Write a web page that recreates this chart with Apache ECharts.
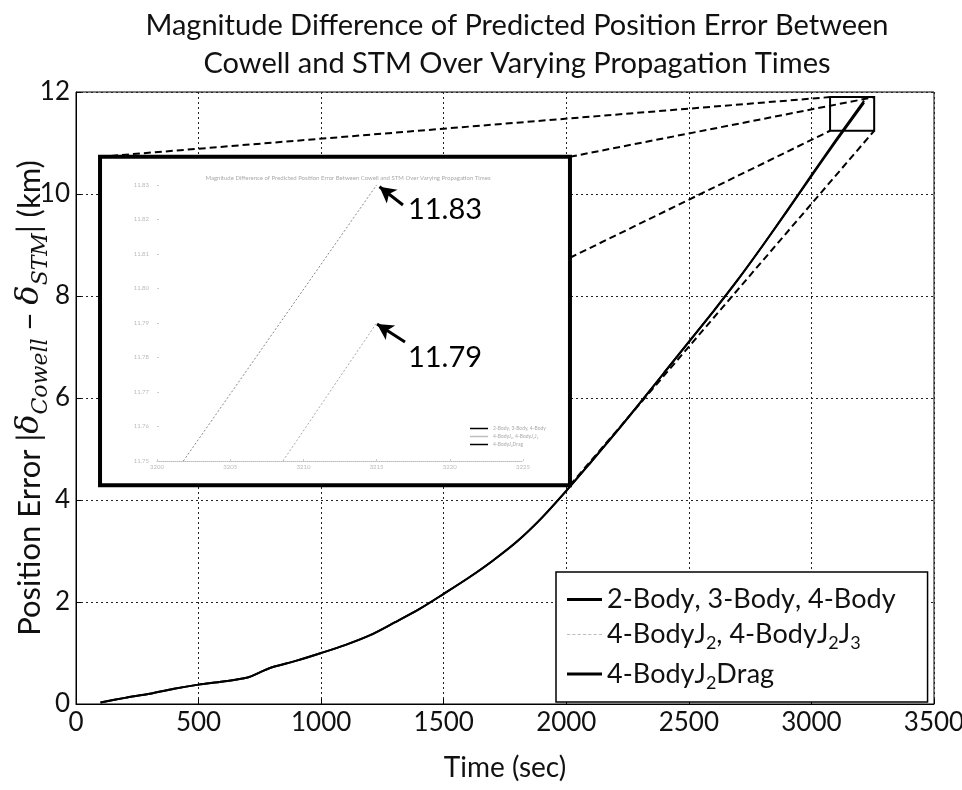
<!DOCTYPE html>
<html><head><meta charset="utf-8">
<script src="https://cdn.jsdelivr.net/npm/echarts@6/dist/echarts.min.js"></script>
<style>html,body{margin:0;padding:0;background:#fff}#c{width:962px;height:790px}</style>
</head><body><div id="c"></div>
<script>
// ---- data ----
const titleText = 'Magnitude Difference of Predicted Position Error Between\nCowell and STM Over Varying Propagation Times';
const xAxisName = 'Time (sec)';
const seriesNames = ['2-Body, 3-Body, 4-Body', '4-BodyJ₂, 4-BodyJ₂J₃', '4-BodyJ₂Drag'];
const timeSec   = [100, 200, 300, 400, 500, 600, 700, 750, 800, 900, 1000, 1100, 1200, 1300, 1400, 1500, 1600, 1700, 1800, 1900, 2000, 2100, 2200, 2300, 2400, 2500, 2600, 2700, 2800, 2900, 3000, 3100, 3215];
const err2Body  = [0.03, 0.12, 0.20, 0.30, 0.38, 0.44, 0.52, 0.62, 0.72, 0.85, 1.00, 1.16, 1.35, 1.60, 1.86, 2.16, 2.47, 2.81, 3.19, 3.65, 4.18, 4.74, 5.31, 5.90, 6.50, 7.10, 7.70, 8.32, 8.98, 9.67, 10.37, 11.06, 11.83];
const errJ2     = [0.03, 0.12, 0.20, 0.30, 0.38, 0.44, 0.52, 0.62, 0.72, 0.85, 1.00, 1.16, 1.35, 1.60, 1.86, 2.16, 2.47, 2.81, 3.19, 3.65, 4.18, 4.74, 5.31, 5.90, 6.50, 7.10, 7.70, 8.32, 8.98, 9.66, 10.35, 11.03, 11.79];
const errDrag   = [0.03, 0.12, 0.20, 0.30, 0.38, 0.44, 0.52, 0.62, 0.72, 0.85, 1.00, 1.16, 1.35, 1.60, 1.86, 2.16, 2.47, 2.81, 3.19, 3.65, 4.18, 4.74, 5.31, 5.90, 6.50, 7.10, 7.70, 8.32, 8.98, 9.66, 10.35, 11.03, 11.79];
// zoom rectangle (data coords) and inset frame (data coords of main axes)
const zoomBoxTime = [3076, 3256];
const zoomBoxErr  = [11.24, 11.90];
const insetTime   = [98, 2015];
const insetErr    = [4.29, 10.73];
const connectorInsetEdgeErr = 8.75;
// inset (magnified) view
const insetT1 = [3201.8, 3215];
const insetV1 = [11.75, 11.83];
const insetT2 = [3208.6, 3215];
const insetV2 = [11.75, 11.79];
const calloutValues = [11.83, 11.79];
const calloutTail   = [[3216.8, 11.8242], [3216.94, 11.7845]];
const calloutTip    = [[3215.2, 11.8295], [3215.03, 11.7897]];
const calloutLabelAt = [[3217.14, 11.823], [3217.14, 11.780]];

const FONT = 'Lato';
const chart = echarts.init(document.getElementById('c'), null, {renderer: 'canvas'});

function toPairs(xs, ys) { return xs.map((x, i) => [x, ys[i]]); }
function legendFmt(name) {
  let out = '';
  for (const ch of name) {
    if (ch === '₂') out += '{s|2}';
    else if (ch === '₃') out += '{s|3}';
    else out += '{t|' + ch + '}';
  }
  return out;
}
const dashIcon = 'path://M0,0h3v1h-3zM5,0h3v1h-3zM10,0h3v1h-3zM15,0h3v1h-3zM20,0h3v1h-3zM25,0h3v1h-3zM30,0h3v1h-3z';

const option = {
  backgroundColor: '#fff',
  animation: false,
  title: [{
    text: titleText,
    left: 512, top: 2, textAlign: 'center',
    textStyle: {fontFamily: FONT, fontSize: 29, fontWeight: 'normal', color: '#111', lineHeight: 38}
  }, {
    text: 'Magnitude Difference of Predicted Position Error Between Cowell and STM Over Varying Propagation Times',
    left: 343, top: 170, textAlign: 'center',
    textStyle: {fontFamily: FONT, fontSize: 6, fontWeight: 'normal', color: '#aaa'}
  }],
  grid: [
    {left: 76, right: 28, top: 92, bottom: 86, outerBoundsMode: 'none', containLabel: false,
     show: true, borderColor: '#000', borderWidth: 1, backgroundColor: 'transparent'},
    {left: 157, width: 366, top: 185, height: 276, outerBoundsMode: 'none', containLabel: false, show: false}
  ],
  legend: [{
    data: [{name: seriesNames[0], icon: 'rect'}, {name: seriesNames[1], icon: dashIcon}, {name: seriesNames[2], icon: 'rect'}],
    orient: 'vertical', left: 556, top: 572,
    padding: [14, 32, 10, 11],
    itemWidth: 35, itemHeight: 3, itemGap: 8,
    backgroundColor: '#fff', borderColor: '#000', borderWidth: 1.5,
    formatter: legendFmt,
    textStyle: {
      fontFamily: FONT, color: '#111',
      rich: {
        t: {fontFamily: FONT, fontSize: 27, color: '#111', lineHeight: 36, verticalAlign: 'middle'},
        s: {fontFamily: FONT, fontSize: 18, color: '#111', lineHeight: 22, verticalAlign: 'bottom'}
      }
    },
    z: 10
  }, {
    data: [{name: seriesNames[0], icon: 'rect'}, {name: seriesNames[1], icon: 'rect'}, {name: seriesNames[2], icon: 'rect'}],
    orient: 'vertical', left: 468, top: 424,
    padding: 2, itemWidth: 18, itemHeight: 1.5, itemGap: 3,
    selectedMode: false,
    textStyle: {fontFamily: FONT, fontSize: 5, color: '#aaa'},
    z: 10
  }],
  xAxis: [{
    gridIndex: 0, type: 'value', min: 0, max: 3500, interval: 500,
    name: xAxisName, nameLocation: 'middle', nameGap: 50, nameMoveOverlap: false,
    nameTextStyle: {fontFamily: FONT, fontSize: 28, color: '#111'},
    axisLine: {show: true, lineStyle: {color: '#000', width: 1}},
    axisTick: {show: true, inside: true, length: 5, lineStyle: {color: '#000'}},
    axisLabel: {fontFamily: FONT, fontSize: 26, color: '#111', margin: 6, formatter: v => String(v)},
    splitLine: {show: true, lineStyle: {color: '#222', type: [2, 3], width: 1}}
  }, {
    gridIndex: 1, type: 'value', min: 3200, max: 3225, interval: 5, z: 3,
    axisLine: {show: true, lineStyle: {color: '#bbb', width: 1, type: 'dotted'}},
    axisTick: {show: true, inside: true, length: 2, lineStyle: {color: '#ccc'}},
    axisLabel: {fontFamily: FONT, fontSize: 6, color: '#bbb', margin: 3, formatter: v => String(v)},
    splitLine: {show: false}
  }],
  yAxis: [{
    gridIndex: 0, type: 'value', min: 0, max: 12, interval: 2,
    name: '{n|Position Error |}{d|δ}{s|Cowell}{n| − }{d|δ}{s|STM}{n|| (km)}',
    nameLocation: 'middle', nameGap: 24, nameRotate: 90, nameMoveOverlap: false,
    nameTextStyle: {
      rich: {
        n: {fontFamily: FONT, fontSize: 31, color: '#111', lineHeight: 44, verticalAlign: 'middle'},
        d: {fontFamily: 'DejaVu Serif', fontStyle: 'italic', fontSize: 32, color: '#111', lineHeight: 44, verticalAlign: 'middle'},
        s: {fontFamily: 'DejaVu Serif', fontStyle: 'italic', fontSize: 22, color: '#111', lineHeight: 24, verticalAlign: 'bottom'}
      }
    },
    axisLine: {show: true, lineStyle: {color: '#000', width: 1}},
    axisTick: {show: true, inside: true, length: 5, lineStyle: {color: '#000'}},
    axisLabel: {fontFamily: FONT, fontSize: 26, color: '#111', margin: 6},
    splitLine: {show: true, lineStyle: {color: '#222', type: [2, 3], width: 1}}
  }, {
    gridIndex: 1, type: 'value', min: 11.75, max: 11.83, interval: 0.01, z: 3,
    axisLine: {show: false},
    axisTick: {show: true, inside: true, length: 2, lineStyle: {color: '#ccc'}},
    axisLabel: {fontFamily: FONT, fontSize: 6, color: '#bbb', margin: 8, formatter: v => v.toFixed(2)},
    splitLine: {show: false}
  }],
  series: [
    {
      name: 'annotations', type: 'line', xAxisIndex: 0, yAxisIndex: 0, data: [], z: 1, silent: true,
      markArea: {
        silent: true,
        data: [
          [{coord: [insetTime[0], insetErr[1]], itemStyle: {color: '#fff', borderColor: '#000', borderWidth: 4}},
           {coord: [insetTime[1], insetErr[0]]}],
          [{coord: [zoomBoxTime[0], zoomBoxErr[1]], itemStyle: {color: 'rgba(0,0,0,0)', borderColor: '#000', borderWidth: 2}},
           {coord: [zoomBoxTime[1], zoomBoxErr[0]]}]
        ]
      },
      markLine: {
        silent: true, symbol: ['none', 'none'], animation: false,
        label: {show: false},
        lineStyle: {color: '#000', type: [7, 4], width: 2},
        data: [
          [{coord: [insetTime[0], insetErr[1]]}, {coord: [zoomBoxTime[0], zoomBoxErr[1]]}],
          [{coord: [insetTime[1], insetErr[1]]}, {coord: [zoomBoxTime[1], zoomBoxErr[1]]}],
          [{coord: [insetTime[1], connectorInsetEdgeErr]}, {coord: [zoomBoxTime[0], zoomBoxErr[0]]}],
          [{coord: [insetTime[1], insetErr[0]]}, {coord: [zoomBoxTime[1], zoomBoxErr[0]]}]
        ]
      }
    },
    {
      name: seriesNames[1], type: 'line', xAxisIndex: 0, yAxisIndex: 0, z: 2, smooth: 0.3,
      data: toPairs(timeSec, errJ2), showSymbol: false, symbol: 'none',
      lineStyle: {color: '#bdbdbd', width: 1.5, type: 'dotted'}, itemStyle: {color: '#bdbdbd'}
    },
    {
      name: seriesNames[2], type: 'line', xAxisIndex: 0, yAxisIndex: 0, z: 2, smooth: 0.3,
      data: toPairs(timeSec, errDrag), showSymbol: false, symbol: 'none',
      lineStyle: {color: '#000', width: 2}, itemStyle: {color: '#000'}
    },
    {
      name: seriesNames[0], type: 'line', xAxisIndex: 0, yAxisIndex: 0, z: 2, smooth: 0.3,
      data: toPairs(timeSec, err2Body), showSymbol: false, symbol: 'none',
      lineStyle: {color: '#000', width: 2}, itemStyle: {color: '#000'}
    },
    {
      name: 'inset1', type: 'line', xAxisIndex: 1, yAxisIndex: 1, z: 4,
      data: toPairs(insetT1, insetV1), showSymbol: false, symbol: 'none',
      lineStyle: {color: '#888', width: 1, type: [2, 2]},
      markLine: {
        silent: true, symbol: ['none', 'arrow'], symbolSize: [13, 16],
        label: {show: false},
        lineStyle: {color: '#000', width: 3, type: 'solid'},
        data: calloutTail.map((t, i) => [{coord: t}, {coord: calloutTip[i]}])
      },
      markPoint: {
        silent: true, symbol: 'circle', symbolSize: 0,
        data: calloutLabelAt.map((c, i) => ({
          coord: c, value: calloutValues[i],
          label: {show: true, position: 'right', distance: 0, formatter: p => p.value.toFixed(2),
                  fontFamily: FONT, fontSize: 29, color: '#000'}
        }))
      }
    },
    {
      name: 'inset2', type: 'line', xAxisIndex: 1, yAxisIndex: 1, z: 4,
      data: toPairs(insetT2, insetV2), showSymbol: false, symbol: 'none',
      lineStyle: {color: '#aaa', width: 1, type: [2, 2]}
    }
  ]
};
chart.setOption(option);
</script>
</body></html>
